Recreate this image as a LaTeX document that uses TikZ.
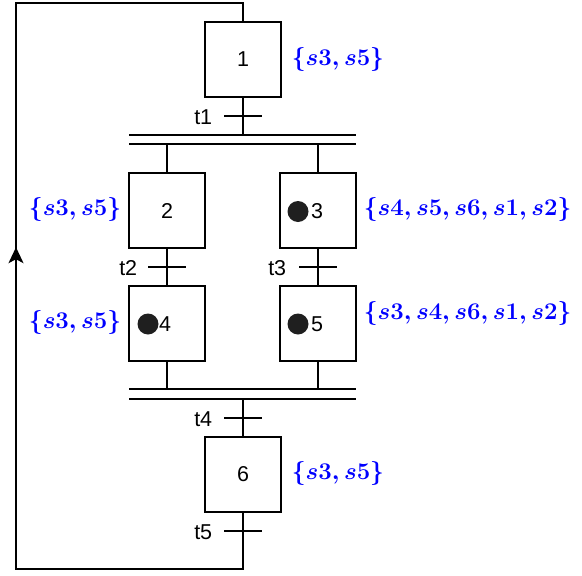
\documentclass[tikz,border=0pt]{standalone}
\usepackage{graphicx}
\usepackage{fontspec}
\setmainfont{Liberation Sans}
\usetikzlibrary{arrows.meta,decorations.markings}
\newcommand{\mlab}[1]{\scalebox{0.963}{$#1$}}
\begin{document}
\begin{tikzpicture}[x=1pt,y=-1pt,
  line width=1.6pt,
  txt/.style={font=\fontsize{21.5}{24}\selectfont},
  stepbox/.style={draw, rectangle, minimum width=76pt, minimum height=75pt, inner sep=0pt, txt},
  tlabel/.style={txt, anchor=east, inner sep=0pt},
  mlabel/.style={text=blue, font=\fontsize{24.88}{30}\selectfont\boldmath, inner sep=0pt},
  token/.style={fill=black!88},
  tick/.style={line width=1.6pt}
]
\useasboundingbox (0,0) rectangle (582,576);
% steps
\node[stepbox] (s1) at (243,59.5) {1};
\node[stepbox] (s2) at (167,210.5) {2};
\node[stepbox] (s3) at (318,210.5) {};
\node[stepbox] (s4) at (167,323.5) {};
\node[stepbox] (s5) at (318,323.5) {};
\node[stepbox] (s6) at (243,474.5) {6};
% token contents
\fill[token] (298,211.5) circle (10.5);
\node[txt] (n3) at (317,211) {3};
\fill[token] (148,324) circle (10.5);
\node[txt] (n4) at (165,324) {4};
\fill[token] (298,324) circle (10.5);
\node[txt] (n5) at (317,324) {5};
% transitions
\coordinate (t1) at (243,116);
\coordinate (t2) at (167,267);
\coordinate (t3) at (318,267);
\coordinate (t4) at (243,418);
\coordinate (t5) at (243,531);
\foreach \t in {t1,t2,t3,t4,t5}{
  \draw[tick] ([xshift=-19pt]\t) -- ([xshift=19pt]\t);
}
\node[tlabel] at ([xshift=-30pt,yshift=-1.5pt]t1) {t1};
\node[tlabel] at ([xshift=-29pt,yshift=-1.5pt]t2) {t2};
\node[tlabel] at ([xshift=-31pt,yshift=-1.5pt]t3) {t3};
\node[tlabel] at ([xshift=-30pt,yshift=-1.5pt]t4) {t4};
\node[tlabel] at ([xshift=-30pt,yshift=-1.5pt]t5) {t5};
% parallel bars
\coordinate (d1a) at (129,135); \coordinate (d1b) at (356,135);
\coordinate (d2a) at (129,144); \coordinate (d2b) at (356,144);
\coordinate (d3a) at (129,389); \coordinate (d3b) at (356,389);
\coordinate (d4a) at (129,399); \coordinate (d4b) at (356,399);
\draw (d1a) -- (d1b);
\draw (d2a) -- (d2b);
\draw (d3a) -- (d3b);
\draw (d4a) -- (d4b);
% connections
\draw (s1.south) -- (s1.south |- d1a);
\draw (s2.north) -- (s2.north |- d2a);
\draw (s3.north) -- (s3.north |- d2a);
\draw (s2.south) -- (s4.north);
\draw (s3.south) -- (s5.north);
\draw (s4.south) -- (s4.south |- d3a);
\draw (s5.south) -- (s5.south |- d3a);
\draw (s6.north) -- (s6.north |- d4a);
% loop
\coordinate (lb) at (243,569);
\coordinate (lbl) at (16,569);
\coordinate (ltl) at (16,3);
\coordinate (lt) at (243,3);
\draw[postaction={decorate}, decoration={markings, mark=at position 605pt with {\arrow{Stealth[length=16pt,width=15pt,inset=4pt]}}}]
  (s6.south) -- (lb) -- (lbl) -- (ltl) -- (lt) -- (s1.north);
% labels
\node[mlabel, anchor=west] (m1) at (291,60) {\mlab{\{s3,s5\}}};
\node[mlabel, anchor=east] (m2) at (122,210) {\mlab{\{s3,s5\}}};
\node[mlabel, anchor=west] (m3) at (363,210) {\mlab{\{s4,s5,s6,s1,s2\}}};
\node[mlabel, anchor=east] (m4) at (122,323) {\mlab{\{s3,s5\}}};
\node[mlabel, anchor=west] (m5) at (363,314) {\mlab{\{s3,s4,s6,s1,s2\}}};
\node[mlabel, anchor=west] (m6) at (291,474) {\mlab{\{s3,s5\}}};
\end{tikzpicture}
\end{document}
